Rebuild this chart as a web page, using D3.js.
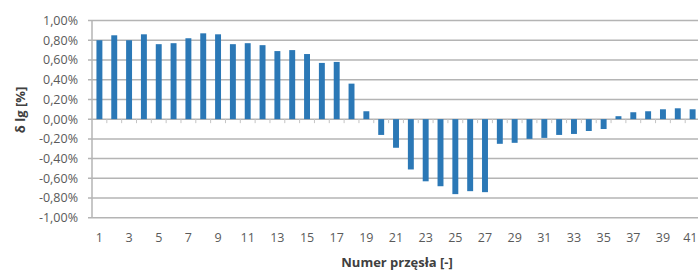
<!DOCTYPE html>
<html><head><meta charset="utf-8">
<script src="https://cdn.jsdelivr.net/npm/d3@7"></script>
<style>body{margin:0;background:#fff}svg{display:block}</style>
</head><body>
<svg id="c" width="698" height="271"></svg>
<script>
const categories = d3.range(1, 42);
const values = [0.80,0.85,0.80,0.86,0.76,0.77,0.82,0.87,0.86,0.76,
                0.77,0.75,0.69,0.70,0.66,0.57,0.58,0.36,0.08,-0.16,
                -0.29,-0.51,-0.63,-0.68,-0.76,-0.73,-0.74,-0.25,-0.24,-0.20,
                -0.19,-0.16,-0.15,-0.12,-0.10,0.03,0.07,0.08,0.10,0.11,0.10];
const yTicks = [-1.0,-0.8,-0.6,-0.4,-0.2,0,0.2,0.4,0.6,0.8,1.0];
const xLabelCats = categories.filter(c => c % 2 === 1);

const W = 698;
const svg = d3.select("#c");
const pLeft = 92, pTop = 20.5, pBottom = 217.8;
const x = d3.scaleBand().domain(categories).range([pLeft, pLeft + 41 * 14.83]).paddingInner(0.6).paddingOuter(0.3);
const y = d3.scaleLinear().domain([-1, 1]).range([pBottom, pTop]);
const font = "'Open Sans', sans-serif";
const step = x.step();
const gap = (step - x.bandwidth()) / 2;

// gridlines
svg.append("g").selectAll("line").data(yTicks).join("line")
  .attr("x1", pLeft - 4).attr("x2", W)
  .attr("y1", d => y(d)).attr("y2", d => y(d))
  .attr("stroke", "#b4b4b4").attr("stroke-width", 1.5);

// y axis line
svg.append("line").attr("x1", pLeft).attr("x2", pLeft).attr("y1", pTop).attr("y2", pBottom)
  .attr("stroke", "#b4b4b4").attr("stroke-width", 1.5);

// bars
svg.append("g").selectAll("rect").data(values).join("rect")
  .attr("x", (d, i) => x(categories[i]))
  .attr("width", x.bandwidth())
  .attr("y", d => y(Math.max(0, d)))
  .attr("height", d => Math.abs(y(d) - y(0)))
  .attr("fill", "#2b78b6");

// category boundary ticks on zero line
svg.append("g").selectAll("line").data(categories.slice(1)).join("line")
  .attr("x1", d => x(d) - gap).attr("x2", d => x(d) - gap)
  .attr("y1", y(0)).attr("y2", y(0) + 4)
  .attr("stroke", "#c4c4c4").attr("stroke-width", 1);

// y tick labels
svg.append("g").selectAll("text").data(yTicks).join("text")
  .attr("x", 78).attr("y", d => y(d)).attr("dy", "0.35em")
  .attr("text-anchor", "end")
  .attr("font-family", font).attr("font-size", 12.5).attr("fill", "#5a5a5a")
  .text(d => d3.format(".2f")(d).replace("−", "-").replace(".", ",") + "%");

// x tick labels (keep the last one inside the picture)
svg.append("g").selectAll("text").data(xLabelCats).join("text")
  .attr("y", 237.5).attr("dy", "0.35em")
  .attr("text-anchor", "middle")
  .attr("font-family", font).attr("font-size", 12.5).attr("fill", "#5a5a5a")
  .text(d => d)
  .each(function(d) {
    const cx = x(d) + x.bandwidth() / 2;
    const w = this.getComputedTextLength();
    d3.select(this).attr("x", Math.min(cx, W - 0.5 - w / 2));
  });

// axis titles
svg.append("text").attr("x", 397).attr("y", 262).attr("dy", "0.35em")
  .attr("text-anchor", "middle").attr("font-family", font).attr("font-size", 13)
  .attr("font-weight", "bold").attr("fill", "#404040").text("Numer przęsła [-]");
svg.append("text").attr("transform", "translate(20,110) rotate(-90)").attr("dy", "0.35em")
  .attr("text-anchor", "middle").attr("font-family", font).attr("font-size", 13)
  .attr("font-weight", "bold").attr("fill", "#404040").text("δ lg [%]");
</script>
</body></html>
